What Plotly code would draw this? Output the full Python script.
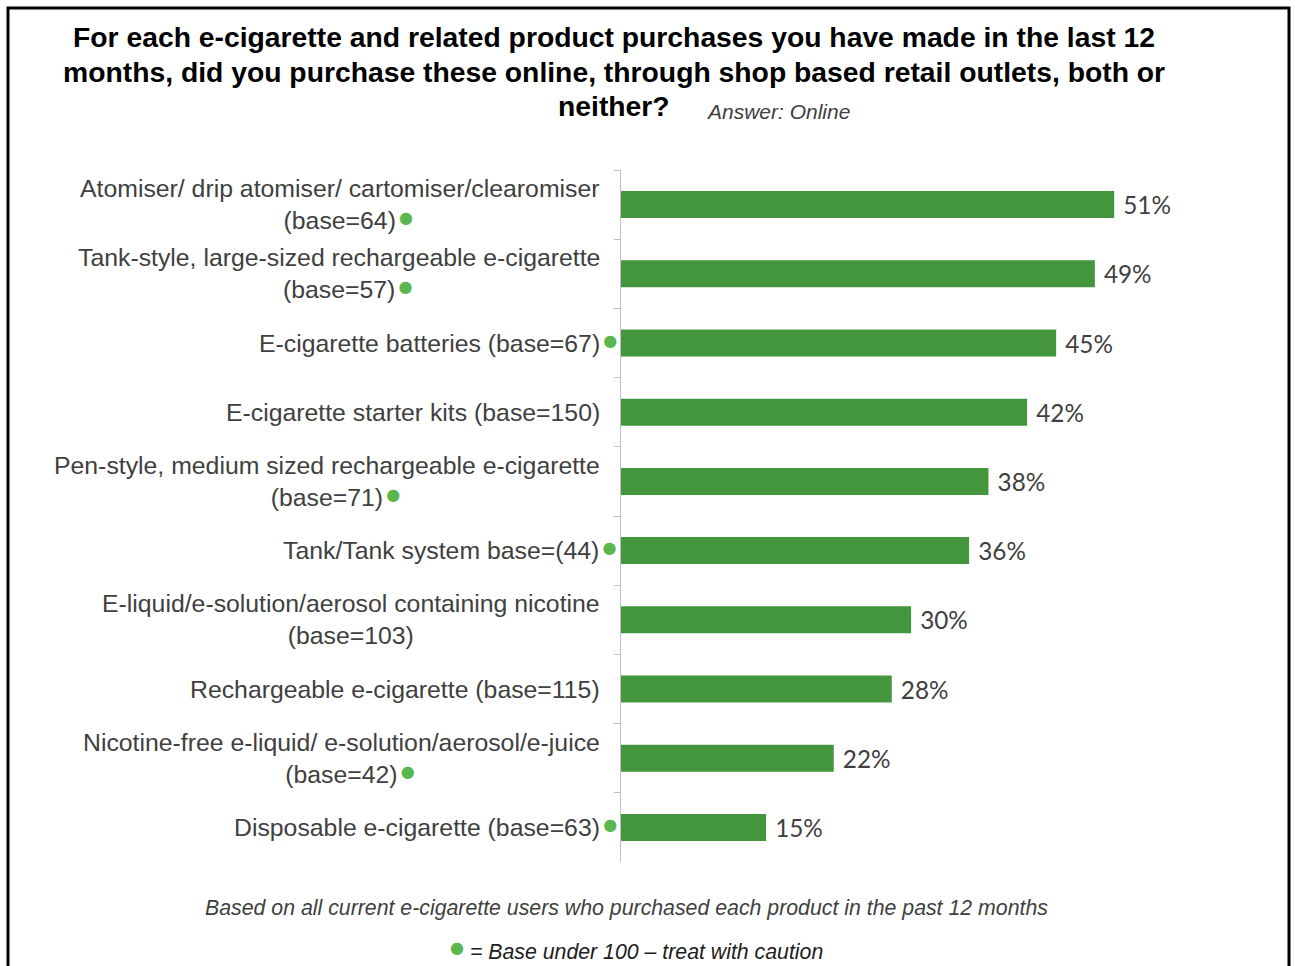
import plotly.graph_objects as go

# ---- data ----
labels = [
    "Atomiser/ drip atomiser/ cartomiser/clearomiser<br>(base=64)",
    "Tank-style, large-sized rechargeable e-cigarette<br>(base=57)",
    "E-cigarette batteries (base=67)",
    "E-cigarette starter kits (base=150)",
    "Pen-style, medium sized rechargeable e-cigarette<br>(base=71)",
    "Tank/Tank system base=(44)",
    "E-liquid/e-solution/aerosol containing nicotine<br>(base=103)",
    "Rechargeable e-cigarette (base=115)",
    "Nicotine-free e-liquid/ e-solution/aerosol/e-juice<br>(base=42)",
    "Disposable e-cigarette (base=63)",
]
bases = [64, 57, 67, 150, 71, 44, 103, 115, 42, 63]
online_pct = [51, 49, 45, 42, 38, 36, 30, 28, 22, 15]

title_lines = [
    "For each e-cigarette and related product purchases you have made in the last 12",
    "months, did you purchase these online, through shop based retail outlets, both or",
    "neither?",
]
subtitle_text = "Answer: Online"
footnote_text = "Based on all current e-cigarette users who purchased each product in the past 12 months"
caution_text = " = Base under 100 – treat with caution"

# ---- layout geometry ----
W, H = 1295, 966
L, R, T, B = 621, 45, 170, 104
PW, PH = W - L - R, H - T - B

def px(x):
    return (x - L) / PW

def py(y):
    return (H - B - y) / PH

BAR = "#43963b"
DOT = "#5ab64e"
TXT = "#404040"
ARIAL = "Liberation Sans, Arial, sans-serif"
LABEL_FONT = dict(family=ARIAL, size=24.8, color=TXT)

DOTSPAN = "font-family:DejaVu Sans;font-size:16px"
dot_glyph = f"<span style='font-size:14px'><sup><span style='{DOTSPAN};color:{DOT}'>●</span></sup></span>"
gap = "<span style='font-family:DejaVu Sans;font-size:10px'>\u00a0</span>"
dot = gap + dot_glyph
inv = f"<span style='{DOTSPAN};color:rgba(0,0,0,0)'>●</span>" + gap

fig = go.Figure()
fig.add_trace(go.Bar(
    x=online_pct, y=labels, orientation="h",
    marker=dict(color=BAR, line=dict(width=0)),
    texttemplate="\u2005%{x}%", textposition="outside", constraintext="none",
    textfont=dict(family="Lato, DejaVu Sans, sans-serif", size=24.3, color=TXT),
    cliponaxis=False, showlegend=False, hoverinfo="skip",
))

annotations = []
for lab, b in zip(labels, bases):
    caution = b < 100
    multi = "<br>" in lab
    if caution and multi:
        first, second = lab.split("<br>")
        text = first + "<br>" + inv + second + dot
        shift = -19
    elif caution:
        text = lab + dot
        shift = -2
    else:
        text = lab
        shift = -19
    annotations.append(dict(
        text=text, x=0, xref="paper", y=lab, yref="y",
        xanchor="right", yanchor="middle", align="center",
        showarrow=False, xshift=shift, font=LABEL_FONT,
    ))

for line, top in zip(title_lines, [18.5, 53.5, 87.5]):
    annotations.append(dict(
        text=f"<b>{line}</b>", x=px(614), y=py(top), xref="paper", yref="paper",
        xanchor="center", yanchor="top", align="center", showarrow=False,
        font=dict(family=ARIAL, size=28.3, color="#000000"),
    ))
annotations.append(dict(
    text=f"<i>{subtitle_text}</i>", x=px(704), y=py(111), xref="paper", yref="paper",
    xanchor="left", yanchor="middle", showarrow=False,
    font=dict(family=ARIAL, size=21, color=TXT),
))
annotations.append(dict(
    text=f"<i>{footnote_text}</i>", x=px(626), y=py(908), xref="paper", yref="paper",
    xanchor="center", yanchor="middle", showarrow=False,
    font=dict(family=ARIAL, size=21.3, color=TXT),
))
annotations.append(dict(
    text=dot_glyph + f"<i>{caution_text}</i>",
    x=px(636), y=py(951), xref="paper", yref="paper",
    xanchor="center", yanchor="middle", showarrow=False,
    font=dict(family=ARIAL, size=21.3, color="#202020"),
))

fig.update_layout(
    width=W, height=H,
    margin=dict(l=L, r=R, t=T, b=B, pad=0),
    paper_bgcolor="white", plot_bgcolor="white",
    bargap=0.61,
    annotations=annotations,
    shapes=[dict(type="rect", xref="paper", yref="paper",
                 x0=px(8), x1=px(1289), y0=py(8), y1=py(990),
                 line=dict(color="black", width=3), fillcolor="rgba(0,0,0,0)")],
    xaxis=dict(range=[0, PW / 9.67], showgrid=False, zeroline=False,
               showline=False, showticklabels=False, ticks=""),
    yaxis=dict(autorange="reversed", showgrid=False, zeroline=False,
               showline=True, linecolor="#c0c0c0", linewidth=1,
               ticks="outside", ticklen=6, tickcolor="#c0c0c0",
               tickson="boundaries", showticklabels=False),
)

fig.write_html("out.html")
